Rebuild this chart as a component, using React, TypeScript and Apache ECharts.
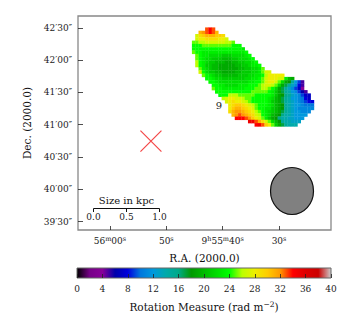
import React, { useEffect, useRef } from "react";
import * as echarts from "echarts";

const FONT = "'DejaVu Serif', serif";

// nipy_spectral-like palette, evenly spaced over 0..40 rad m^-2
const paletteColors = [
  "#000000", "#770088", "#880099", "#0000aa", "#0000dd", "#0077dd", "#0099dd",
  "#00aaaa", "#00aa88", "#009900", "#00bb00", "#00dd00", "#00ff00", "#bbff00",
  "#eeee00", "#ffcc00", "#ff9900", "#ff0000", "#dd0000", "#cc0000", "#cccccc",
];
const rmRange = [0, 40];
const rmTicks = [0, 4, 8, 12, 16, 20, 24, 28, 32, 36, 40];

const raTicks = [60, 50, 40, 30];
const raLabels: Record<number, string> = {
  60: "{n|56}{s|m}{n|00}{s|s}",
  50: "{n|50}{s|s}",
  40: "{n|9}{s|h}{n|55}{s|m}{n|40}{s|s}",
  30: "{n|30}{s|s}",
};
const decTicks = [30, 60, 90, 120, 150, 180, 210];
const decLabels: Record<number, string> = {
  30: "39′30″", 60: "40′00″", 90: "40′30″", 120: "41′00″",
  150: "41′30″", 180: "42′00″", 210: "42′30″",
};

// Rotation-measure map, row by row from the top: [first column, values...]
const rmRows: number[][] = [
  [4, 33, 34, 33],
  [2, 31, 32, 33, 34, 33, 31],
  [1, 27, 29, 30, 31, 31, 31, 30, 30, 29],
  [1, 27, 28, 28, 29, 29, 29, 29, 28, 28, 27],
  [0, 25, 25, 26, 26, 27, 27, 27, 27, 27, 27, 26, 26, 25],
  [0, 24, 24, 24, 25, 25, 25, 25, 25, 25, 25, 25, 25, 24, 24, 24],
  [0, 24, 24, 24, 24, 24, 24, 24, 24, 24, 24, 24, 24, 24, 24, 24, 23],
  [0, 25, 24, 24, 23, 23, 23, 23, 23, 23, 23, 23, 23, 23, 23, 23, 23, 24],
  [1, 25, 24, 23, 23, 22, 22, 22, 22, 21, 21, 21, 22, 22, 22, 22, 23, 24],
  [1, 25, 24, 23, 22, 22, 21, 21, 21, 20, 20, 20, 21, 21, 22, 22, 22, 23, 24],
  [1, 26, 24, 23, 22, 21, 21, 20, 20, 20, 19, 19, 20, 20, 21, 21, 22, 22, 23, 24],
  [1, 26, 24, 23, 21, 21, 20, 20, 19, 19, 19, 19, 19, 20, 20, 21, 21, 22, 23, 23, 24],
  [2, 25, 23, 22, 21, 20, 20, 19, 19, 19, 19, 19, 19, 20, 20, 21, 21, 22, 22, 23, 25],
  [2, 27, 24, 22, 21, 21, 20, 20, 19, 19, 19, 19, 20, 20, 21, 21, 21, 22, 22, 23, 25, 27, 27],
  [3, 25, 24, 23, 22, 21, 21, 20, 20, 20, 20, 20, 21, 21, 21, 22, 22, 23, 23, 24, 26, 28, 28, 28, 28, 28],
  [4, 24, 24, 23, 22, 22, 21, 21, 21, 21, 21, 21, 21, 22, 22, 23, 23, 24, 25, 27, 28, 28, 28, 27, 27, 23, 20, 19],
  [5, 24, 24, 23, 22, 22, 22, 22, 22, 22, 22, 22, 22, 23, 23, 24, 24, 25, 27, 28, 28, 27, 25, 22, 19, 18, 15, 12, 9, 5],
  [6, 24, 24, 23, 23, 22, 22, 22, 22, 23, 23, 23, 24, 24, 24, 25, 26, 27, 27, 26, 25, 22, 19, 17, 15, 13, 11, 8, 5],
  [6, 25, 24, 24, 23, 23, 23, 23, 23, 23, 23, 24, 24, 24, 25, 25, 26, 26, 25, 24, 22, 19, 17, 15, 13, 11, 9, 7, 4],
  [7, 24, 24, 24, 24, 24, 24, 24, 24, 24, 24, 24, 25, 25, 25, 25, 25, 24, 23, 21, 19, 17, 15, 14, 12, 11, 9, 6, 5],
  [8, 24, 24, 24, 26, 26, 26, 25, 25, 25, 25, 25, 24, 24, 24, 24, 24, 23, 21, 19, 18, 16, 15, 13, 12, 11, 9, 7, 7],
  [9, 26, 27, 28, 28, 27, 27, 26, 25, 25, 24, 24, 24, 24, 24, 23, 22, 20, 19, 17, 15, 14, 12, 12, 11, 10, 8, 7],
  [10, 27, 28, 29, 28, 28, 27, 26, 25, 24, 24, 24, 24, 24, 23, 21, 20, 19, 17, 15, 14, 13, 12, 11, 10, 9, 8, 8],
  [11, 28, 29, 30, 30, 29, 28, 27, 26, 25, 24, 24, 24, 23, 22, 20, 19, 18, 15, 14, 13, 12, 12, 11, 10, 10, 10],
  [11, 28, 30, 31, 31, 30, 29, 28, 27, 25, 24, 24, 23, 23, 21, 20, 19, 18, 15, 14, 13, 12, 11, 11, 11, 11, 11],
  [11, 29, 31, 32, 32, 31, 30, 29, 28, 26, 25, 24, 23, 22, 21, 20, 19, 17, 15, 14, 13, 12, 12, 11, 11, 11],
  [12, 31, 32, 33, 32, 31, 30, 29, 27, 26, 24, 23, 22, 20, 19, 18, 16, 14, 14, 13, 12, 12, 12, 12],
  [13, 34, 34, 34, 33, 32, 30, 28, 27, 25, 23, 21, 19, 18, 16, 14, 14, 13, 13, 12, 12, 12],
  [17, 35, 35, 33, 31, 29, 27, 25, 22, 20, 18, 15, 14, 14, 13, 13, 13],
  [19, 34, 35, 33, 30, 28, 25, 21, 19, 17, 15, 14, 14, 14],
];

// map origin and cell size, in sky units
const raStart = 45.46;
const raStep = 0.585;
const decStart = 210.4;
const decStep = 3.064;

const crossPoint = [[52.73, 104.8]];
const scaleTicks = ["0.0", "0.5", "1.0"];

const cellData: number[][] = [];
rmRows.forEach((row, r) => {
  row.slice(1).forEach((v, i) => {
    cellData.push([raStart - (row[0] + i) * raStep, decStart - r * decStep, v]);
  });
});

const sup = {
  n: { fontFamily: FONT, fontSize: 9, color: "#222" },
  s: { fontFamily: FONT, fontSize: 6.5, color: "#222", verticalAlign: "top" as const, lineHeight: 12 },
};

export default function App() {
  const ref = useRef<HTMLDivElement>(null);
  useEffect(() => {
    const chart = echarts.init(ref.current!, undefined, { renderer: "svg" });
    const stops = paletteColors.map((color, i) => ({ offset: i / (paletteColors.length - 1), color }));
    const barX = [93.5, 126.5, 159.5];
    chart.setOption({
      animation: false,
      backgroundColor: "#fff",
      textStyle: { fontFamily: FONT },
      visualMap: {
        show: false,
        type: "continuous",
        min: rmRange[0],
        max: rmRange[1],
        dimension: 2,
        seriesIndex: 0,
        inRange: { color: paletteColors },
      },
      grid: [
        { z: 5, left: 78, top: 16, width: 253, height: 214, show: true, borderColor: "#888", borderWidth: 1.3, backgroundColor: "transparent" },
        { z: 5, left: 77, top: 268, width: 254, height: 10, show: true, borderColor: "#666", borderWidth: 1, backgroundColor: "transparent" },
      ],
      xAxis: [
        {
          z: 6,
          gridIndex: 0,
          type: "value",
          inverse: true,
          min: 20.78,
          max: 65.67,
          name: "R.A. (2000.0)",
          nameLocation: "middle",
          nameGap: 22,
          nameTextStyle: { fontFamily: FONT, fontSize: 10.5, color: "#111" },
          splitLine: { show: false },
          axisLine: { show: false },
          axisTick: { show: true, inside: true, length: 4, customValues: raTicks, lineStyle: { color: "#222", width: 0.8 } },
          axisLabel: {
            customValues: raTicks,
            margin: 5,
            fontFamily: FONT,
            fontSize: 9,
            color: "#222",
            formatter: (v: number) => raLabels[v] ?? "",
            rich: sup,
          },
        },
        {
          z: 6,
          gridIndex: 1,
          type: "value",
          min: rmRange[0],
          max: rmRange[1],
          name: "Rotation Measure (rad m{s|−2})",
          nameLocation: "middle",
          nameGap: 22,
          nameTextStyle: {
            fontFamily: FONT,
            fontSize: 10.5,
            color: "#111",
            rich: { s: { fontFamily: FONT, fontSize: 7.5, color: "#111", verticalAlign: "top", lineHeight: 14 } },
          },
          splitLine: { show: false },
          axisLine: { show: false },
          axisTick: { show: true, inside: true, length: 4, customValues: rmTicks, lineStyle: { color: "#222", width: 0.8 } },
          axisLabel: { customValues: rmTicks, margin: 6, fontFamily: FONT, fontSize: 9, color: "#222", hideOverlap: false },
        },
      ],
      yAxis: [
        {
          z: 6,
          gridIndex: 0,
          type: "value",
          min: 22.2,
          max: 221,
          name: "Dec. (2000.0)",
          nameLocation: "middle",
          nameGap: 46,
          nameTextStyle: { fontFamily: FONT, fontSize: 10.5, color: "#111" },
          splitLine: { show: false },
          axisLine: { show: false },
          axisTick: { show: true, inside: true, length: 5, customValues: decTicks, lineStyle: { color: "#222", width: 0.8 } },
          axisLabel: {
            customValues: decTicks,
            margin: 6,
            fontFamily: FONT,
            fontSize: 9,
            color: "#222",
            formatter: (v: number) => decLabels[v] ?? "",
          },
        },
        { gridIndex: 1, type: "value", min: 0, max: 1, show: false },
      ],
      series: [
        {
          type: "custom",
          xAxisIndex: 0,
          yAxisIndex: 0,
          data: cellData,
          encode: { x: 0, y: 1 },
          renderItem: (_: unknown, api: any) => {
            const a = api.coord([api.value(0), api.value(1)]);
            const b = api.coord([api.value(0) - raStep, api.value(1) - decStep]);
            const color = api.visual("color");
            return {
              type: "rect",
              shape: { x: a[0], y: a[1], width: b[0] - a[0] + 0.3, height: b[1] - a[1] + 0.3 },
              style: { fill: color },
            };
          },
        },
        {
          type: "custom",
          xAxisIndex: 1,
          yAxisIndex: 1,
          data: [[rmRange[0], rmRange[1]]],
          renderItem: (_: unknown, api: any) => {
            const a = api.coord([api.value(0), 1]);
            const b = api.coord([api.value(1), 0]);
            return {
              type: "rect",
              shape: { x: a[0], y: a[1], width: b[0] - a[0], height: b[1] - a[1] },
              style: { fill: new echarts.graphic.LinearGradient(0, 0, 1, 0, stops) },
            };
          },
        },
        {
          type: "scatter",
          xAxisIndex: 0,
          yAxisIndex: 0,
          data: crossPoint,
          symbol: "path://M0 0L20 20M20 0L0 20",
          symbolSize: 21,
          itemStyle: { color: "none", borderColor: "#f01818", borderWidth: 1.2 },
        },
      ],
      graphic: [
        {
          type: "ellipse",
          shape: { cx: 292, cy: 191, rx: 21.5, ry: 23.5 },
          style: { fill: "#808080", stroke: "#111", lineWidth: 1.2 },
        },
        { type: "text", x: 219, y: 105, style: { text: "9", font: `10px ${FONT}`, fill: "#222", textAlign: "center", textVerticalAlign: "middle" } },
        { type: "text", x: 126.5, y: 200, style: { text: "Size in kpc", font: `10px ${FONT}`, fill: "#111", textAlign: "center", textVerticalAlign: "middle" } },
        { type: "line", shape: { x1: barX[0], y1: 208.5, x2: barX[2], y2: 208.5 }, style: { stroke: "#111", lineWidth: 1.1 } },
        ...barX.map((x) => ({ type: "line", shape: { x1: x, y1: 208.5, x2: x, y2: 212 }, style: { stroke: "#111", lineWidth: 1 } })),
        ...barX.map((x, i) => ({
          type: "text",
          x,
          y: 217,
          style: { text: scaleTicks[i], font: `9px ${FONT}`, fill: "#222", textAlign: "center", textVerticalAlign: "middle" },
        })),
      ],
    });
    return () => chart.dispose();
  }, []);
  return <div ref={ref} style={{ position: "absolute", left: 0, top: 0, width: 350, height: 320 }} />;
}
